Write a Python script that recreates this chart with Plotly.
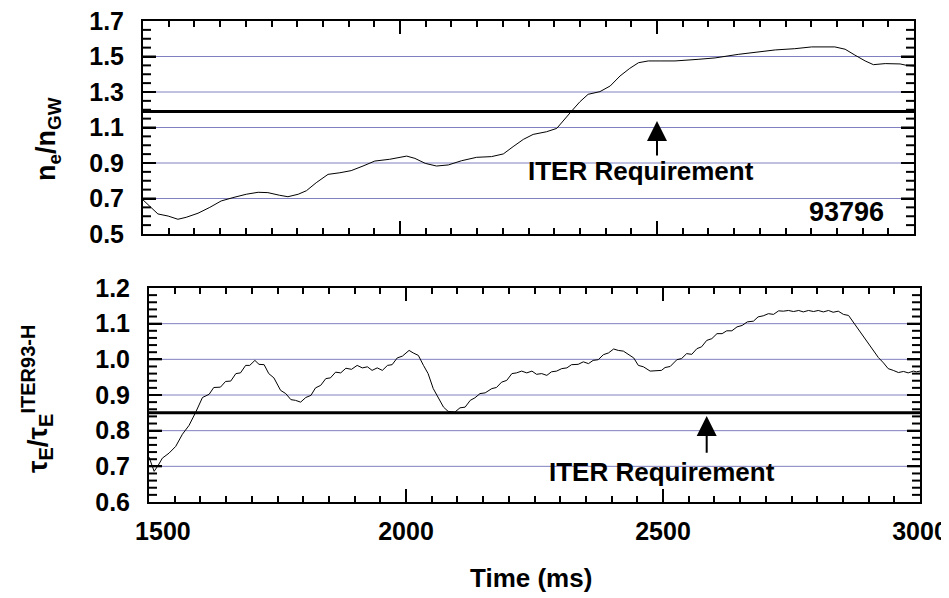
import plotly.graph_objects as go

# ---- data: top panel (n_e / n_GW) ----
t_ne = [1500, 1513, 1529, 1549, 1568, 1584, 1607, 1630, 1652, 1675, 1701, 1724, 1743, 1766,
        1782, 1802, 1818, 1837, 1860, 1883, 1905, 1928, 1951, 1980, 2006, 2013, 2029, 2049,
        2071, 2094, 2120, 2149, 2178, 2201, 2220, 2240, 2259, 2285, 2305, 2321, 2334, 2350,
        2366, 2389, 2409, 2428, 2447, 2464, 2483, 2506, 2535, 2580, 2613, 2658, 2697, 2730,
        2768, 2801, 2846, 2866, 2885, 2905, 2921, 2944, 2973, 2986, 3000]
ne_ngw = [0.692, 0.658, 0.613, 0.601, 0.583, 0.594, 0.617, 0.650, 0.686, 0.705, 0.724, 0.735,
          0.733, 0.718, 0.710, 0.724, 0.744, 0.789, 0.836, 0.845, 0.857, 0.883, 0.911, 0.921,
          0.932, 0.939, 0.926, 0.898, 0.883, 0.889, 0.913, 0.932, 0.936, 0.951, 0.992, 1.033,
          1.061, 1.076, 1.095, 1.146, 1.193, 1.245, 1.287, 1.302, 1.334, 1.390, 1.433, 1.465,
          1.475, 1.475, 1.475, 1.484, 1.492, 1.512, 1.525, 1.537, 1.544, 1.554, 1.554, 1.541,
          1.508, 1.475, 1.454, 1.460, 1.458, 1.450, 1.446]

# ---- data: bottom panel (tau_E / tau_E^ITER93-H) ----
t_tau = [1500, 1510, 1518, 1526, 1539, 1552, 1565, 1578, 1591, 1604, 1617, 1626, 1639, 1649,
         1659, 1669, 1678, 1688, 1696, 1706, 1714, 1724, 1733, 1743, 1756, 1766, 1776, 1785,
         1795, 1805, 1815, 1824, 1834, 1844, 1853, 1863, 1873, 1883, 1894, 1905, 1915, 1925,
         1934, 1944, 1954, 1964, 1973, 1983, 1993, 2006, 2014, 2024, 2034, 2043, 2053, 2063,
         2073, 2082, 2095, 2105, 2115, 2125, 2134, 2144, 2154, 2167, 2176, 2186, 2196, 2206,
         2215, 2225, 2235, 2245, 2254, 2264, 2274, 2283, 2293, 2303, 2313, 2322, 2335, 2345,
         2355, 2364, 2374, 2384, 2394, 2404, 2413, 2423, 2433, 2443, 2452, 2462, 2475, 2488,
         2497, 2504, 2514, 2527, 2536, 2546, 2556, 2566, 2575, 2585, 2595, 2605, 2615, 2624,
         2634, 2644, 2654, 2664, 2676, 2685, 2695, 2705, 2715, 2725, 2734, 2744, 2754, 2764,
         2773, 2783, 2793, 2802, 2812, 2822, 2831, 2841, 2851, 2861, 2870, 2880, 2890, 2900,
         2909, 2919, 2929, 2938, 2948, 2958, 2968, 2977, 2987, 2993, 3000]
tau_ratio = [0.726, 0.686, 0.703, 0.723, 0.737, 0.756, 0.790, 0.815, 0.852, 0.893, 0.902, 0.921,
             0.922, 0.938, 0.939, 0.960, 0.962, 0.983, 0.983, 0.997, 0.986, 0.985, 0.960, 0.948,
             0.913, 0.904, 0.887, 0.885, 0.880, 0.893, 0.899, 0.920, 0.927, 0.946, 0.948, 0.964,
             0.962, 0.975, 0.972, 0.983, 0.976, 0.979, 0.969, 0.976, 0.969, 0.983, 0.985, 1.004,
             1.009, 1.025, 1.018, 1.011, 0.983, 0.960, 0.918, 0.892, 0.866, 0.854, 0.852, 0.864,
             0.866, 0.885, 0.892, 0.904, 0.906, 0.918, 0.921, 0.936, 0.941, 0.960, 0.962, 0.967,
             0.962, 0.967, 0.958, 0.960, 0.955, 0.965, 0.967, 0.974, 0.976, 0.985, 0.986, 0.993,
             0.988, 0.997, 0.999, 1.013, 1.018, 1.029, 1.025, 1.023, 1.013, 1.004, 0.983, 0.979,
             0.967, 0.967, 0.969, 0.977, 0.980, 0.999, 1.002, 1.016, 1.014, 1.030, 1.035, 1.053,
             1.058, 1.072, 1.072, 1.080, 1.080, 1.091, 1.095, 1.105, 1.107, 1.119, 1.122, 1.128,
             1.126, 1.136, 1.135, 1.137, 1.134, 1.137, 1.133, 1.137, 1.134, 1.137, 1.133, 1.137,
             1.132, 1.135, 1.126, 1.123, 1.105, 1.086, 1.063, 1.046, 1.025, 1.005, 0.990, 0.974,
             0.969, 0.963, 0.966, 0.962, 0.967, 0.965, 0.967]

# ---- reference levels, ticks & labels ----
iter_req_ne = 1.19
iter_req_tau = 0.85
shot_label = "93796"
req_label = "ITER Requirement"
x_tickvals = [1500, 2000, 2500, 3000]
x_ticktext = ["\u00a0\u00a0\u00a0\u00a01500", "2000", "2500", "3000"]
y1_tickvals = [0.5, 0.7, 0.9, 1.1, 1.3, 1.5, 1.7]
y1_ticktext = ["0.5", "0.7", "0.9", "1.1", "1.3", "1.5", "1.7"]
y2_tickvals = [0.6, 0.7, 0.8, 0.9, 1.0, 1.1, 1.2]
y2_ticktext = ["0.6", "0.7", "0.8", "0.9", "1.0", "1.1", "1.2"]
y1_minor_step = 0.05
y2_minor_step = 0.02

FONT = "Liberation Sans, Arial, sans-serif"
GRID = "#8080c0"

# page body has an 8px default margin -> figure is 8px smaller, positions offset by 8px
W, H, OFF = 941, 590, 8
AX_LEN = 771  # plot-area width in px (for tick lengths as domain fractions)


def px_x(x):
    return (x - OFF) / W


def px_y(y):
    return 1 - (y - OFF) / H


fig = go.Figure()
fig.add_trace(go.Scatter(x=t_ne, y=ne_ngw, mode="lines", line=dict(color="black", width=1),
                         xaxis="x", yaxis="y", showlegend=False, hoverinfo="skip"))
fig.add_trace(go.Scatter(x=t_tau, y=tau_ratio, mode="lines", line=dict(color="black", width=1),
                         xaxis="x2", yaxis="y2", showlegend=False, hoverinfo="skip"))

# horizontal grid lines at the labelled y ticks (interior ones)
for v in y1_tickvals[1:-1]:
    fig.add_shape(type="line", xref="x domain", yref="y", x0=0, x1=1, y0=v, y1=v, layer="below",
                  line=dict(color=GRID, width=1))
for v in y2_tickvals[1:-1]:
    fig.add_shape(type="line", xref="x2 domain", yref="y2", x0=0, x1=1, y0=v, y1=v, layer="below",
                  line=dict(color=GRID, width=1))


# inside y ticks on both sides of each panel (major long, minor short)
def add_y_ticks(xref, yref, lo, hi, step, majors):
    n = int(round((hi - lo) / step))
    for i in range(1, n):
        v = round(lo + i * step, 4)
        is_major = any(abs(v - m) < 1e-6 for m in majors)
        ln = (13 if is_major else 8) / AX_LEN
        for x0, x1 in ((0, ln), (1 - ln, 1)):
            fig.add_shape(type="line", xref=xref, yref=yref, x0=x0, x1=x1, y0=v, y1=v,
                          layer="above", line=dict(color="black", width=2))


add_y_ticks("x domain", "y", 0.5, 1.7, y1_minor_step, y1_tickvals)
add_y_ticks("x2 domain", "y2", 0.6, 1.2, y2_minor_step, y2_tickvals)

# ITER requirement lines
fig.add_shape(type="line", xref="x domain", yref="y", x0=0, x1=1, y0=iter_req_ne, y1=iter_req_ne,
              line=dict(color="black", width=3))
fig.add_shape(type="line", xref="x2 domain", yref="y2", x0=0, x1=1, y0=iter_req_tau, y1=iter_req_tau,
              line=dict(color="black", width=3))

xcommon = dict(range=[1500, 3000], showgrid=False, showline=True, linecolor="black", linewidth=2,
               mirror="ticks", ticks="inside", ticklen=13, tickwidth=2, tickcolor="black",
               tickmode="array", tickvals=x_tickvals, zeroline=False, automargin=False,
               ticklabeloverflow="allow",
               minor=dict(ticks="inside", ticklen=6, tickwidth=2, tickcolor="black", dtick=50,
                          tick0=1500, showgrid=False))
ycommon = dict(showgrid=False, showline=True, linecolor="black",
               linewidth=2, mirror="ticks", ticks="inside", ticklen=13, tickwidth=2,
               tickcolor="black", zeroline=False, ticklabelstandoff=12,
               automargin=False, tickmode="array", ticklabeloverflow="allow",
               tickfont=dict(family=FONT, size=25, color="black", weight="bold"))

fig.update_layout(
    template="none",
    width=W, height=H, margin=dict(l=0, r=0, t=0, b=0, pad=0),
    plot_bgcolor="white", paper_bgcolor="white",
    font=dict(family=FONT, color="black", weight="bold"),
    xaxis=dict(xcommon, domain=[px_x(143), px_x(914)], anchor="y", showticklabels=False),
    yaxis=dict(ycommon, domain=[px_y(234), px_y(21)], anchor="x", range=[0.5, 1.7],
               tickvals=y1_tickvals, ticktext=y1_ticktext),
    xaxis2=dict(xcommon, domain=[px_x(149), px_x(920)], anchor="y2", ticktext=x_ticktext,
                ticklabelstandoff=6, tickfont=dict(family=FONT, size=25, color="black", weight="bold")),
    yaxis2=dict(ycommon, domain=[px_y(502), px_y(288)], anchor="x2", range=[0.6, 1.2],
                tickvals=y2_tickvals, ticktext=y2_ticktext),
)

ann_font = dict(family=FONT, size=26, color="black", weight="bold")
# top panel annotations
fig.add_annotation(x=2500, y=1.137, ax=2500, ay=0.934, xref="x", yref="y", axref="x", ayref="y",
                   text="", showarrow=True, arrowhead=2, arrowsize=2, arrowwidth=2, arrowcolor="black")
fig.add_annotation(x=2469, y=0.855, xref="x", yref="y", text=req_label, showarrow=False, font=ann_font)
fig.add_annotation(x=2869, y=0.624, xref="x", yref="y", text=shot_label, showarrow=False,
                   font=dict(ann_font, size=27))
# bottom panel annotations
fig.add_annotation(x=2585, y=0.841, ax=2585, ay=0.734, xref="x2", yref="y2", axref="x2", ayref="y2",
                   text="", showarrow=True, arrowhead=2, arrowsize=2, arrowwidth=2, arrowcolor="black")
fig.add_annotation(x=2499, y=0.683, xref="x2", yref="y2", text=req_label, showarrow=False, font=ann_font)

# axis titles
fig.add_annotation(x=px_x(531), y=px_y(578), xref="paper", yref="paper", text="Time (ms)",
                   xanchor="center", yanchor="middle", showarrow=False, font=ann_font)
fig.add_annotation(x=px_x(48), y=px_y(139), xref="paper", yref="paper",
                   text="n<sub>e</sub>/n<sub>GW</sub>", textangle=-90, xanchor="center",
                   yanchor="middle", showarrow=False, font=dict(ann_font, size=27))
fig.add_annotation(x=px_x(37), y=px_y(399), xref="paper", yref="paper",
                   text="τ<sub><span style='font-size:20px'>E</span></sub>/τ<sub><span style='font-size:20px'>E</span></sub>"
                        "<sup><span style='font-size:20px'>ITER93-H</span></sup>",
                   textangle=-90, xanchor="center", yanchor="middle", showarrow=False,
                   font=dict(ann_font, size=28))

fig.write_html("out.html")
